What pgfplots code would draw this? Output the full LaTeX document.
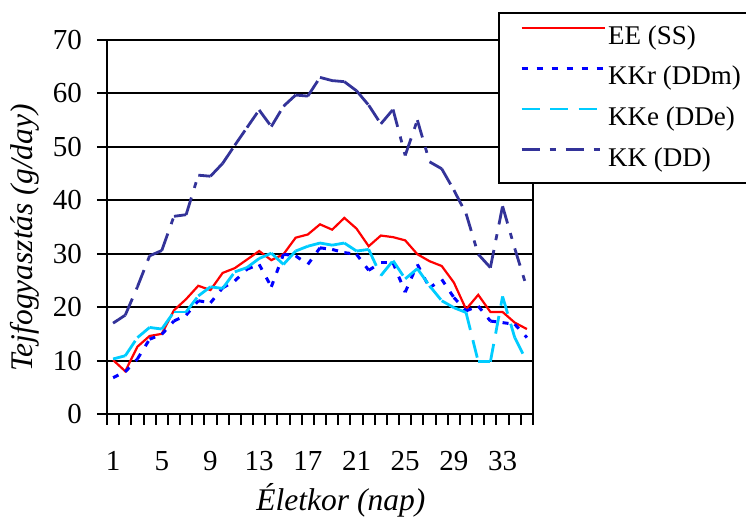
\documentclass[border=0pt]{standalone}
\usepackage{fontspec}
\setmainfont{Liberation Serif}
\usepackage{pgfplots}
\usepackage{pgfplotstable}
\pgfplotsset{compat=1.18}

\definecolor{eered}{HTML}{FF0000}
\definecolor{kkrblue}{HTML}{0000FF}
\definecolor{kkecyan}{HTML}{00CCFF}
\definecolor{kkdark}{HTML}{333399}

% day, EE (SS), KKr (DDm), KKe (DDe), KK (DD)
\pgfplotstableread{
x  ee   kkr  kke  kk
1  10.1 6.8  10.3 17.0
2  8.0  7.9  10.9 18.5
3  12.6 10.3 14.3 23.8
4  14.6 14.0 16.2 29.6
5  15.0 14.9 15.9 30.6
6  19.4 17.4 19.1 37.0
7  21.5 18.5 19.1 37.3
8  24.0 21.2 22.1 44.7
9  23.2 20.8 23.8 44.5
10 26.4 23.6 23.5 46.9
11 27.3 24.9 26.6 50.3
12 28.9 27.1 27.4 53.6
13 30.5 28.0 29.1 56.9
14 28.8 23.8 30.1 53.8
15 29.9 29.9 28.0 57.6
16 33.0 29.6 30.5 59.7
17 33.6 28.0 31.4 59.5
18 35.5 31.1 32.0 63.0
19 34.5 30.8 31.6 62.4
20 36.7 30.2 32.0 62.2
21 34.7 29.9 30.5 60.5
22 31.4 26.9 30.8 57.8
23 33.4 28.3 25.9 54.3
24 33.1 28.3 28.7 57.0
25 32.5 22.8 25.3 48.4
26 29.9 28.0 27.2 55.0
27 28.6 23.6 24.0 47.2
28 27.7 25.2 21.2 45.9
29 24.6 21.8 19.9 41.9
30 19.6 19.3 19.0 37.5
31 22.3 20.2 9.8  29.9
32 19.1 17.4 9.8  27.4
33 19.1 17.1 22.0 38.9
34 17.1 16.8 14.3 31.0
35 15.9 14.3 9.8  23.6
}\datatable

\tikzset{
  eeline/.style={color=eered, line width=2.2pt, solid},
  kkrline/.style={color=kkrblue, line width=3pt, dash pattern=on 6pt off 9pt},
  kkeline/.style={color=kkecyan, line width=2.8pt, dash pattern=on 18pt off 10.5pt},
  kkline/.style={color=kkdark, line width=2.8pt, dash pattern=on 18pt off 10pt on 6pt off 10pt},
}

\begin{document}
\begin{tikzpicture}
\useasboundingbox (0pt,0pt) rectangle (746pt,518pt);
\begin{axis}[
    at={(107pt,104pt)}, anchor=south west,
    scale only axis, width=426pt, height=374pt,
    xmin=0.5, xmax=35.5, ymin=0, ymax=70,
    xtick={1,5,...,33},
    minor xtick={0.5,1.5,...,35.5},
    ytick={0,10,...,70},
    tick pos=left,
    tick align=outside,
    major tick length=10pt,
    minor tick length=11pt,
    major x tick style={draw=none},
    minor x tick style={black, line width=2pt},
    major y tick style={black, line width=2pt},
    axis line style={black, line width=2.5pt},
    ymajorgrids,
    major grid style={black, line width=2pt},
    /pgf/number format/assume math mode=true,
    tick label style={font=\fontsize{29}{29}\selectfont},
    yticklabel style={anchor=east, inner sep=0pt, xshift=-15pt},
    xticklabel style={anchor=north, inner sep=0pt, yshift=-27pt},
    every axis x label/.style={at={(axis description cs:0.549,-0.2567)}, anchor=base},
    every axis y label/.style={at={(axis description cs:-0.176,0.4706)}, anchor=base, rotate=90},
    xlabel={\fontsize{31.5}{31.5}\selectfont\itshape Életkor (nap)},
    ylabel={\fontsize{31.5}{31.5}\selectfont\itshape Tejfogyasztás (g/day)},
    legend image code/.code={\draw[#1] (0pt,9.5pt) -- (83pt,9.5pt);},
    legend cell align=left,
    legend style={at={(axis description cs:0.9178,1.0749)}, anchor=north west,
        draw=black, line width=2.5pt, fill=white,
        inner xsep=21pt, inner ysep=11pt, row sep=14.6pt, column sep=2pt,
        font=\fontsize{27}{27}\selectfont,
        nodes={inner sep=0pt, text height=20pt, text depth=6pt}},
]
\addplot[eeline] table[x=x, y=ee] {\datatable};
\addlegendentry{EE (SS)}
\addlegendimage{kkrline}
\addlegendentry{KKr (DDm)}
\addlegendimage{kkeline}
\addlegendentry{KKe (DDe)}
\addlegendimage{kkline}
\addlegendentry{KK (DD)}

% each segment drawn on its own, so the dash pattern starts again at every point
\pgfplotsinvokeforeach{1,...,34}{
  \addplot[kkrline, forget plot, x filter/.expression={abs(x-#1-0.5)<0.6 ? x : nan}] table[x=x, y=kkr] {\datatable};
}
\pgfplotsinvokeforeach{1,...,34}{
  \addplot[kkeline, forget plot, x filter/.expression={abs(x-#1-0.5)<0.6 ? x : nan}] table[x=x, y=kke] {\datatable};
}
\pgfplotsinvokeforeach{1,...,34}{
  \addplot[kkline, forget plot, x filter/.expression={abs(x-#1-0.5)<0.6 ? x : nan}] table[x=x, y=kk] {\datatable};
}
\end{axis}
\end{tikzpicture}
\end{document}
